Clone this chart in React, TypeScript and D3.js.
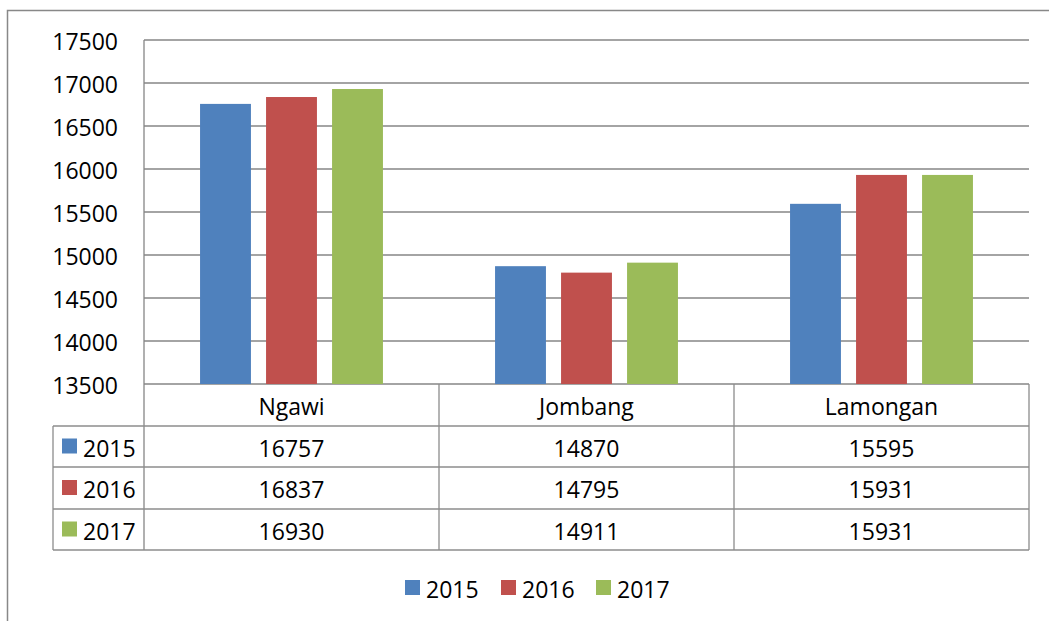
import React from "react";
import * as d3 from "d3";

const categories = ["Ngawi", "Jombang", "Lamongan"];
const seriesNames = ["2015", "2016", "2017"];
const values2015 = [16757, 14870, 15595];
const values2016 = [16837, 14795, 15931];
const values2017 = [16930, 14911, 15931];
const seriesColors = ["#4F81BD", "#C0504D", "#9BBB59"];
const yTicks = [13500, 14000, 14500, 15000, 15500, 16000, 16500, 17000, 17500];

const seriesValues = [values2015, values2016, values2017];

export default function App() {
  const W = 1049, H = 621;
  const plotLeft = 144, plotRight = 1029, plotTop = 40, plotBottom = 384;
  const tableLeft = 53;
  const rowH = [384, 426, 467, 509, 550];
  const font = "'Open Sans', Calibri, sans-serif";
  const fs = 23;

  const x = d3.scaleBand<string>().domain(categories).range([plotLeft, plotRight]).paddingInner(0).paddingOuter(0);
  const bw = x.bandwidth();
  const xs = d3.scaleBand<string>().domain(seriesNames).range([bw * 0.19, bw * 0.81]).paddingInner(0.229).paddingOuter(0);
  const y = d3.scaleLinear().domain([13500, 17500]).range([plotBottom, plotTop]);

  const grid = "#868686";
  const tline = "#8C8C8C";

  const legendItems = [
    { name: seriesNames[0], sq: 405, tx: 426 },
    { name: seriesNames[1], sq: 501, tx: 522 },
    { name: seriesNames[2], sq: 596, tx: 617 },
  ];

  return (
    <svg width={W} height={H} style={{ position: "absolute", left: 0, top: 0 }} fontFamily={font}>
      <rect x={0} y={0} width={W} height={H} fill="#fff" />
      <rect x={7.5} y={10.5} width={1200} height={800} fill="none" stroke="#888" strokeWidth={1.5} />
      {yTicks.map((t) => (
        <line key={t} x1={plotLeft} x2={plotRight} y1={y(t)} y2={y(t)} stroke={grid} strokeWidth={1.3} />
      ))}
      {yTicks.map((t) => (
        <text key={"l" + t} x={118} y={y(t) + 1} fontSize={fs} textAnchor="end" dominantBaseline="central" fill="#000">
          {t}
        </text>
      ))}
      {categories.map((c, ci) =>
        seriesNames.map((s, si) => (
          <rect
            key={c + s}
            x={(x(c) as number) + (xs(s) as number)}
            y={y(seriesValues[si][ci])}
            width={xs.bandwidth()}
            height={plotBottom - y(seriesValues[si][ci])}
            fill={seriesColors[si]}
          />
        ))
      )}
      <line x1={plotLeft} x2={plotLeft} y1={plotTop} y2={rowH[4]} stroke={grid} strokeWidth={1.3} />
      {rowH.slice(1).map((yy) => (
        <line key={"h" + yy} x1={tableLeft} x2={plotRight} y1={yy} y2={yy} stroke={tline} strokeWidth={1.3} />
      ))}
      <line x1={tableLeft} x2={tableLeft} y1={rowH[1]} y2={rowH[4]} stroke={tline} strokeWidth={1.3} />
      {categories.map((c) => (
        <line key={"v" + c} x1={(x(c) as number) + bw} x2={(x(c) as number) + bw} y1={rowH[0]} y2={rowH[4]} stroke={tline} strokeWidth={1.3} />
      ))}
      {categories.map((c) => (
        <text key={"c" + c} x={(x(c) as number) + bw / 2} y={(rowH[0] + rowH[1]) / 2 + 1} fontSize={fs} textAnchor="middle" dominantBaseline="central">
          {c}
        </text>
      ))}
      {seriesNames.map((s, si) => {
        const cy = (rowH[si + 1] + rowH[si + 2]) / 2;
        return (
          <g key={"r" + s}>
            <rect x={62} y={cy - 8} width={15} height={15} fill={seriesColors[si]} />
            <text x={83} y={cy + 1} fontSize={fs} dominantBaseline="central">{s}</text>
            {categories.map((c, ci) => (
              <text key={c} x={(x(c) as number) + bw / 2} y={cy + 1} fontSize={fs} textAnchor="middle" dominantBaseline="central">
                {seriesValues[si][ci]}
              </text>
            ))}
          </g>
        );
      })}
      {legendItems.map((it, i) => (
        <g key={"lg" + it.name}>
          <rect x={it.sq} y={580} width={15} height={15} fill={seriesColors[i]} />
          <text x={it.tx} y={588.5} fontSize={fs} dominantBaseline="central">{it.name}</text>
        </g>
      ))}
    </svg>
  );
}
